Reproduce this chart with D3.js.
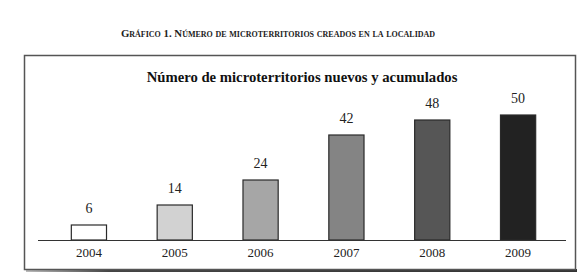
<!DOCTYPE html>
<html>
<head>
<meta charset="utf-8">
<script src="https://cdn.jsdelivr.net/npm/d3@7"></script>
<style>
  body { margin: 0; background: #fff; }
  svg { display: block; }
  text { font-family: "Liberation Serif", "DejaVu Serif", serif; }
</style>
</head>
<body>
<div id="chart"></div>
<script>
// datos
const years = ["2004", "2005", "2006", "2007", "2008", "2009"];
const values = [6, 14, 24, 42, 48, 50];
const fills = ["#ffffff", "#d2d2d2", "#a6a6a6", "#848484", "#565656", "#222222"];

const pageTitle = "Gráfico 1. Número de microterritorios creados en la localidad";
const chartTitle = "Número de microterritorios nuevos y acumulados";

const width = 580,
    height = 273,
    boxLeft = 24,
    boxTop = 55,
    boxRight = 575,
    boxBottom = 269,
    axisY = 240;

const svg = d3.select('#chart')
    .append('svg')
    .attr('width', width)
    .attr('height', height);

const defs = svg.append('defs');
const grad = defs.append('linearGradient')
    .attr('id', 'shadow')
    .attr('x1', '0').attr('x2', '1');
grad.append('stop').attr('offset', '0').attr('stop-color', '#bbb');
grad.append('stop').attr('offset', '0.15').attr('stop-color', '#444');
grad.append('stop').attr('offset', '1').attr('stop-color', '#333');

// titulo superior en versalitas
svg.append('text')
    .attr('x', 278)
    .attr('y', 37)
    .attr('text-anchor', 'middle')
    .style('font-size', '10.8px')
    .style('font-weight', 'bold')
    .style('font-variant', 'small-caps')
    .style('fill', '#222')
    .text(pageTitle);

// sombra bajo el marco
svg.append('rect')
    .attr('x', boxLeft + 2)
    .attr('y', boxBottom)
    .attr('width', boxRight - boxLeft)
    .attr('height', 3)
    .attr('fill', 'url(#shadow)');

// marco
svg.append('rect')
    .attr('x', boxLeft + 0.5)
    .attr('y', boxTop + 0.5)
    .attr('width', boxRight - boxLeft)
    .attr('height', boxBottom - boxTop)
    .attr('fill', '#fff')
    .attr('stroke', '#555')
    .attr('stroke-width', 1.5);

svg.append('text')
    .attr('x', 302)
    .attr('y', 82)
    .attr('text-anchor', 'middle')
    .style('font-size', '14.7px')
    .style('font-weight', 'bold')
    .style('fill', '#111')
    .text(chartTitle);

const scaleX = d3.scaleBand()
    .domain(years)
    .range([46, 561])
    .paddingInner(0.59)
    .paddingOuter(0.295);

const scaleY = d3.scaleLinear()
    .domain([0, 50])
    .range([axisY, 115]);

svg.selectAll('rect.bar')
    .data(values)
    .enter()
    .append('rect')
    .attr('class', 'bar')
    .attr('x', (d, i) => scaleX(years[i]))
    .attr('y', d => scaleY(d))
    .attr('width', scaleX.bandwidth())
    .attr('height', d => axisY - scaleY(d))
    .attr('fill', (d, i) => fills[i])
    .attr('stroke', '#2a2a2a')
    .attr('stroke-width', 1.2);

svg.selectAll('text.val')
    .data(values)
    .enter()
    .append('text')
    .attr('class', 'val')
    .attr('x', (d, i) => scaleX(years[i]) + scaleX.bandwidth() / 2)
    .attr('y', d => scaleY(d) - 12)
    .attr('text-anchor', 'middle')
    .style('font-size', '14px')
    .style('fill', '#222')
    .text(d => d);

// eje x
const xAxis = d3.axisBottom(scaleX).tickSize(0).tickPadding(8);
const gx = svg.append('g')
    .attr('transform', `translate(0,${axisY})`)
    .call(xAxis);
gx.select('.domain').remove();
gx.selectAll('text')
    .style('font-family', '"Liberation Serif", serif')
    .style('font-size', '13px')
    .style('fill', '#222');

svg.append('line')
    .attr('x1', 38)
    .attr('x2', 566)
    .attr('y1', axisY + 0.5)
    .attr('y2', axisY + 0.5)
    .attr('stroke', '#333')
    .attr('stroke-width', 1);
</script>
</body>
</html>
